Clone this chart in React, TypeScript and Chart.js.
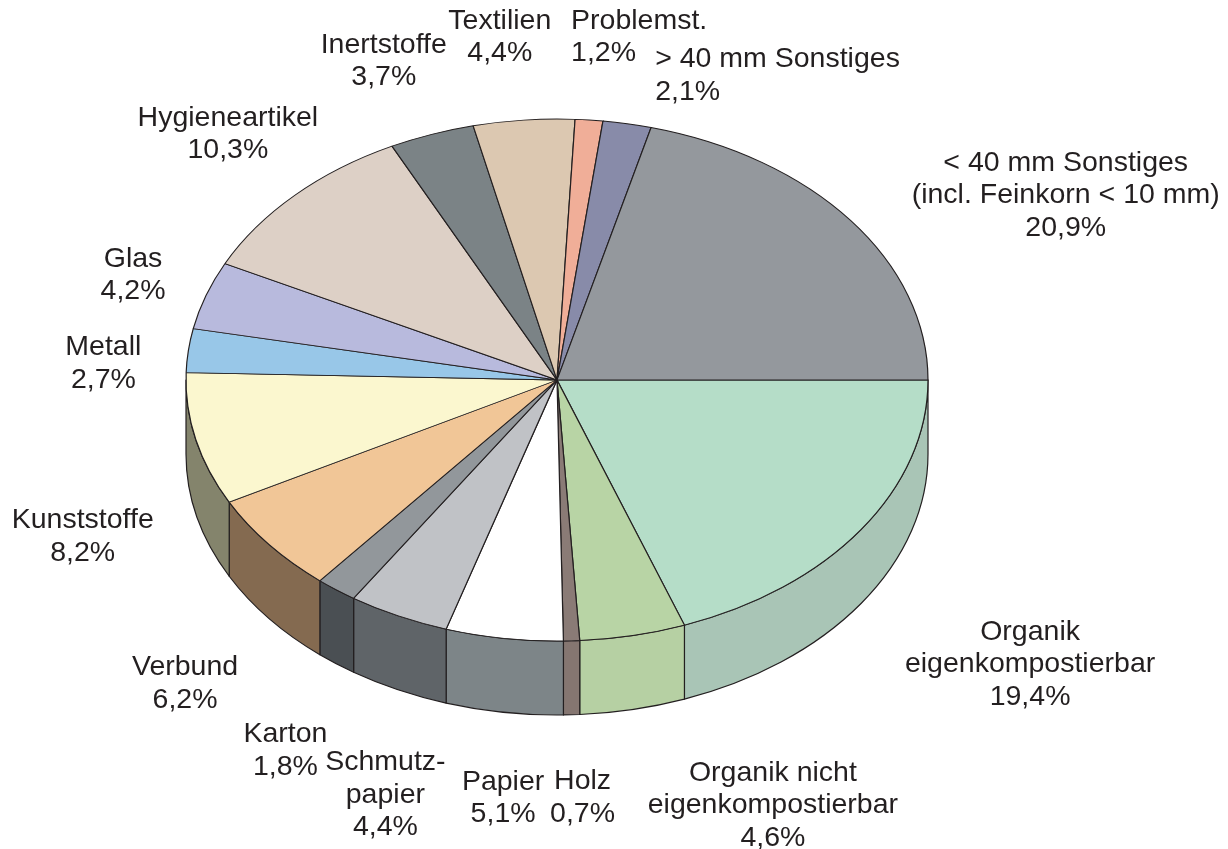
import React, { useEffect, useRef } from "react";
import { Chart, registerables } from "chart.js";

Chart.register(...registerables);

// ---- data ----
const categories: string[] = [
  "Organik\neigenkompostierbar",
  "Organik nicht\neigenkompostierbar",
  "Holz",
  "Papier",
  "Schmutz-\npapier",
  "Karton",
  "Verbund",
  "Kunststoffe",
  "Metall",
  "Glas",
  "Hygieneartikel",
  "Inertstoffe",
  "Textilien",
  "Problemst.",
  "> 40 mm Sonstiges",
  "< 40 mm Sonstiges\n(incl. Feinkorn < 10 mm)",
];
const shares: number[] = [19.4, 4.6, 0.7, 5.1, 4.4, 1.8, 6.2, 8.2, 2.7, 4.2, 10.3, 3.7, 4.4, 1.2, 2.1, 20.9];

// ---- styles ----
const topColors: string[] = [
  "#b5ddc8", "#b8d4a5", "#8a7b76", "#ffffff", "#c0c2c6", "#92979b", "#f1c697", "#fbf7cf",
  "#98c7e8", "#b8badd", "#ddd0c6", "#7b8386", "#dcc8b1", "#f0ae98", "#888ba9", "#94989d",
];
const sideColors: string[] = [
  "#a9c5b6", "#b6d0a3", "#857671", "#7d8588", "#5f6468", "#4a4f53", "#846a50", "#84846c",
  "#7a98ac", "#8a8ca8", "#a89c94", "#5a6064", "#a89886", "#b88272", "#66687e", "#6e7276",
];
const OUTLINE = "#231f20";
const SQUASH = 0.7035;
const DEPTH = 74;
const FONT = "28.5px 'Liberation Sans', Arial, sans-serif";
const LINE_H = 32.5;
// label offsets relative to the slice's rim point (layout only)
const labelOffsets: [number, number][] = [
  [169, 61], [140, 96], [11, 83], [-1, 86], [-13, 105], [-51, 87], [-84, 65], [-113, 23],
  [-85, 13], [-73, -20], [-67, -61], [-48, -73], [-24, -83], [-18, -83], [28, -48], [215, -25],
];
const labelAlign: CanvasTextAlign[] = [
  "center", "center", "center", "center", "center", "center", "center", "center",
  "center", "center", "center", "center", "center", "left", "left", "center",
];

const fmt = (v: number) => v.toFixed(1).replace(".", ",") + "%";

const pie3d = {
  id: "pie3d",
  beforeDatasetsDraw(chart: any) {
    const meta = chart.getDatasetMeta(0);
    const arcs = meta.data;
    if (!arcs.length) return;
    const { x: cx, y: cy, outerRadius: r } = arcs[0].getProps(["x", "y", "outerRadius"], true);
    const ry = r * SQUASH;
    const ctx: CanvasRenderingContext2D = chart.ctx;
    ctx.save();
    arcs.forEach((arc: any, i: number) => {
      const { startAngle, endAngle } = arc.getProps(["startAngle", "endAngle"], true);
      const a0 = Math.max(startAngle, 0);
      const a1 = Math.min(endAngle, Math.PI);
      if (a1 <= a0) return;
      ctx.beginPath();
      ctx.ellipse(cx, cy, r, ry, 0, a0, a1, false);
      ctx.ellipse(cx, cy + DEPTH, r, ry, 0, a1, a0, true);
      ctx.closePath();
      ctx.fillStyle = sideColors[i];
      ctx.fill();
      ctx.lineWidth = 1.2;
      ctx.strokeStyle = OUTLINE;
      ctx.lineJoin = "round";
      ctx.stroke();
    });
    ctx.restore();
    ctx.save();
    ctx.translate(0, cy);
    ctx.scale(1, SQUASH);
    ctx.translate(0, -cy);
  },
  afterDatasetsDraw(chart: any) {
    const ctx: CanvasRenderingContext2D = chart.ctx;
    ctx.restore();
    const meta = chart.getDatasetMeta(0);
    const arcs = meta.data;
    if (!arcs.length) return;
    ctx.save();
    ctx.font = FONT;
    ctx.fillStyle = OUTLINE;
    ctx.textBaseline = "middle";
    arcs.forEach((arc: any, i: number) => {
      const { x: cx, y: cy, outerRadius: r, startAngle, endAngle } = arc.getProps(
        ["x", "y", "outerRadius", "startAngle", "endAngle"],
        true
      );
      const mid = (startAngle + endAngle) / 2;
      const s = Math.sin(mid);
      const px = cx + r * Math.cos(mid);
      const py = cy + r * SQUASH * s + (s > 0 ? DEPTH : 0);
      const lines = (categories[i] + "\n" + fmt(shares[i])).split("\n");
      const bx = px + labelOffsets[i][0];
      const by = py + labelOffsets[i][1];
      ctx.textAlign = labelAlign[i];
      const y0 = by - ((lines.length - 1) * LINE_H) / 2;
      lines.forEach((ln, j) => ctx.fillText(ln, bx, y0 + j * LINE_H));
    });
    ctx.restore();
  },
};

export default function App() {
  const ref = useRef<HTMLCanvasElement>(null);
  useEffect(() => {
    document.body.style.margin = "0";
    if (!ref.current) return;
    const chart = new Chart(ref.current, {
      type: "pie",
      data: {
        labels: categories,
        datasets: [
          {
            data: shares,
            backgroundColor: topColors,
            borderColor: OUTLINE,
            borderWidth: 1.2,
            hoverOffset: 0,
            clip: false as any,
          },
        ],
      },
      options: {
        responsive: false,
        animation: false,
        rotation: 90,
        radius: 371,
        events: [],
        layout: { padding: { left: 0, right: 114, top: 0, bottom: 89 } },
        plugins: { legend: { display: false }, tooltip: { enabled: false } },
      } as any,
      plugins: [pie3d],
    });
    return () => chart.destroy();
  }, []);
  return (
    <div style={{ width: 1228, height: 849, background: "#fff" }}>
      <canvas ref={ref} width={1228} height={849} style={{ display: "block" }} />
    </div>
  );
}
